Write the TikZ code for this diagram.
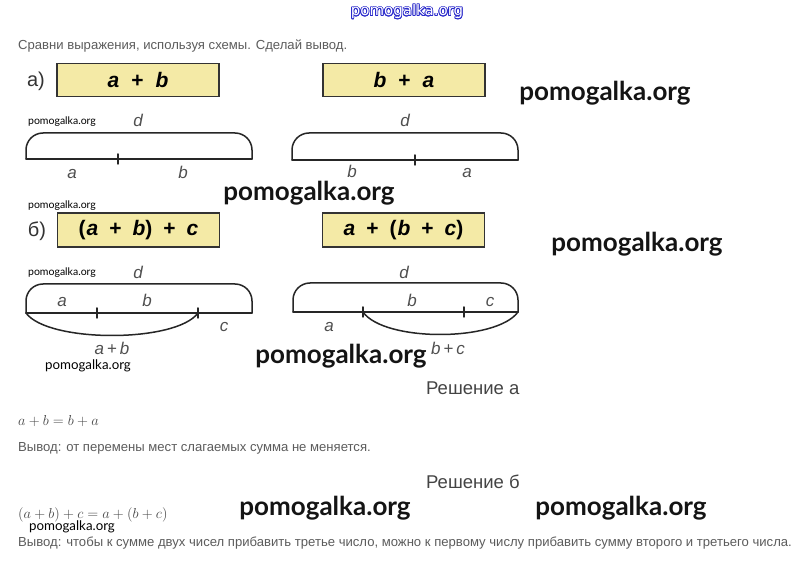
\documentclass[tikz,border=0pt]{standalone}
\usepackage{fontspec}
\setmainfont{Liberation Sans}
\newfontfamily\wmfont{Lato}
\newfontfamily\bodyfont{Liberation Sans}
\newfontfamily\topfont{DejaVu Sans}
\usepackage{contour}
\contourlength{0.7pt}
\definecolor{boxfill}{HTML}{F4EAA6}
\definecolor{bodygrey}{HTML}{5C5C5C}
\definecolor{eqgrey}{HTML}{484848}
\definecolor{headgrey}{HTML}{444444}
\definecolor{lblgrey}{HTML}{505050}
\definecolor{topblue}{HTML}{2A2ACC}
\begin{document}
\begin{tikzpicture}[x=1pt,y=-1pt,
  seg/.style={line width=1.5pt, draw=black!85, line cap=round},
  expr/.style={draw=black!80, line width=1.7pt, fill=boxfill, minimum width=162pt, minimum height=33pt, inner sep=0pt, font=\fontsize{21}{22}\selectfont\bfseries},
  lbl/.style={text=lblgrey, font=\fontsize{17}{18}\selectfont\itshape, inner sep=0pt, anchor=base},
  part/.style={text=black!80, font=\fontsize{20}{22}\selectfont, inner sep=0pt},
  wmbig/.style={font=\wmfont\bfseries\fontsize{26}{27}\selectfont, text=black!92, inner sep=0pt},
  wmsmall/.style={font=\wmfont\fontsize{10.5}{11}\selectfont, text=black, inner sep=0pt},
  wmmid/.style={font=\wmfont\fontsize{13.3}{14}\selectfont, text=black, inner sep=0pt},
  bodytxt/.style={font=\bodyfont\fontsize{13.1}{15}\selectfont, text=bodygrey, inner sep=0pt, anchor=base west},
  headtxt/.style={font=\fontsize{18.5}{20}\selectfont, text=headgrey, inner sep=0pt, anchor=base west},
  eqtxt/.style={font=\fontsize{14}{16}\selectfont, text=eqgrey, inner sep=0pt, anchor=base west}
]
\useasboundingbox[fill=white] (0,0) rectangle (812,564);

% top watermark
\node[inner sep=0pt] (topwm) at (407,12) {\topfont\fontsize{15}{16}\selectfont\contour{topblue}{\textcolor{white}{pomogalka.org}}};

\node[bodytxt] (task) at (18,50) {Сравни выражения, используя схемы. Сделай вывод.};

% ---------- part a ----------
\node[part] (pa) at (36,81) {а)};
\node[expr] (ab) at (138,80) {{\itshape a}\hskip12pt+\hskip12pt{\itshape b}};
\node[expr] (ba) at (404,80) {{\itshape b}\hskip12pt+\hskip12pt{\itshape a}};

% left scheme a
\coordinate (aL) at (26,159);
\coordinate (aM) at (118,159);
\coordinate (aR) at (252,159);
\draw[seg] (aL) -- (aR);
\draw[seg, rounded corners=17pt] (aL) -- ++(0,-26) -| (aR);
\draw[seg] ([yshift=-5pt]aM) -- ([yshift=5pt]aM);
\node[lbl] (ad) at (138,127) {d};
\node[lbl] (aa) at (72,179) {a};
\node[lbl] (abb) at (183,179) {b};

% right scheme a
\coordinate (bL) at (292,160);
\coordinate (bM) at (415,160);
\coordinate (bR) at (518,160);
\draw[seg] (bL) -- (bR);
\draw[seg, rounded corners=17pt] (bL) -- ++(0,-27) -| (bR);
\draw[seg] ([yshift=-5pt]bM) -- ([yshift=5pt]bM);
\node[lbl] (bd) at (405,127) {d};
\node[lbl] (bb) at (352,178) {b};
\node[lbl] (ba2) at (467,178) {a};

% ---------- part b ----------
\node[part] (pb) at (37,231) {б)};
\node[expr, minimum height=34pt] (abc1) at (138.5,230) {(\kern1pt{\itshape a}\hskip11pt+\hskip11pt{\itshape b})\hskip11pt+\hskip11pt{\itshape c}};
\node[expr, minimum height=34pt] (abc2) at (403.5,230) {{\itshape a}\hskip11pt+\hskip11pt(\kern1pt{\itshape b}\hskip11pt+\hskip11pt{\itshape c})};

% left scheme b
\coordinate (cL) at (26,313);
\coordinate (cM1) at (97,313);
\coordinate (cM2) at (198,313);
\coordinate (cR) at (252,313);
\draw[seg] (cL) -- (cR);
\draw[seg, rounded corners=17pt] (cL) -- ++(0,-29) -| (cR);
\draw[seg] ([yshift=-5pt]cM1) -- ([yshift=5pt]cM1);
\draw[seg] ([yshift=-5pt]cM2) -- ([yshift=5pt]cM2);
\draw[seg] (cL) .. controls (48,343) and (176,343) .. (cM2);
\node[lbl] (cd) at (138,279) {d};
\node[lbl] (ca) at (62,307) {a};
\node[lbl] (cb) at (147,307) {b};
\node[lbl] (cc) at (224,332) {c};
\node[lbl] (cab) at (112,355) {a\,{\upshape+}\,b};

% right scheme b
\coordinate (dL) at (293,312);
\coordinate (dM1) at (363,312);
\coordinate (dM2) at (464,312);
\coordinate (dR) at (518,312);
\draw[seg] (dL) -- (dR);
\draw[seg, rounded corners=17pt] (dL) -- ++(0,-29) -| (dR);
\draw[seg] ([yshift=-5pt]dM1) -- ([yshift=5pt]dM1);
\draw[seg] ([yshift=-5pt]dM2) -- ([yshift=5pt]dM2);
\draw[seg] (dM1) .. controls (384,342) and (496,342) .. (dR);
\node[lbl] (dd) at (404,279) {d};
\node[lbl] (db) at (412,307) {b};
\node[lbl] (dc) at (490,307) {c};
\node[lbl] (da) at (329,332) {a};
\node[lbl] (dbc) at (448,355) {b\,{\upshape+}\,c};

% ---------- solutions ----------
\node[headtxt] (sa) at (426,394) {Решение а};
\node[eqtxt] (eqa) at (18,425) {$a+b=b+a$};
\node[bodytxt] (va) at (18,451) {Вывод: от перемены мест слагаемых сумма не меняется.};
\node[headtxt] (sb) at (426,488) {Решение б};
\node[eqtxt] (eqb) at (18,518) {$(a+b)+c=a+(b+c)$};
\node[bodytxt] (vb) at (18,546) {Вывод: чтобы к сумме двух чисел прибавить третье число, можно к первому числу прибавить сумму второго и третьего числа.};

% ---------- watermarks ----------
\node[wmbig] (w1) at (605,93) {pomogalka.org};
\node[wmbig] (w2) at (309,193.5) {pomogalka.org};
\node[wmbig] (w3) at (637,244) {pomogalka.org};
\node[wmbig] (w4) at (341,356) {pomogalka.org};
\node[wmbig] (w5) at (325,508) {pomogalka.org};
\node[wmbig] (w6) at (621,508) {pomogalka.org};
\node[wmsmall] (s1) at (62,122) {pomogalka.org};
\node[wmsmall] (s2) at (62,206) {pomogalka.org};
\node[wmsmall] (s3) at (62,273) {pomogalka.org};
\node[wmmid] (s4) at (88,366) {pomogalka.org};
\node[wmmid] (s5) at (72,527) {pomogalka.org};
\end{tikzpicture}
\end{document}
